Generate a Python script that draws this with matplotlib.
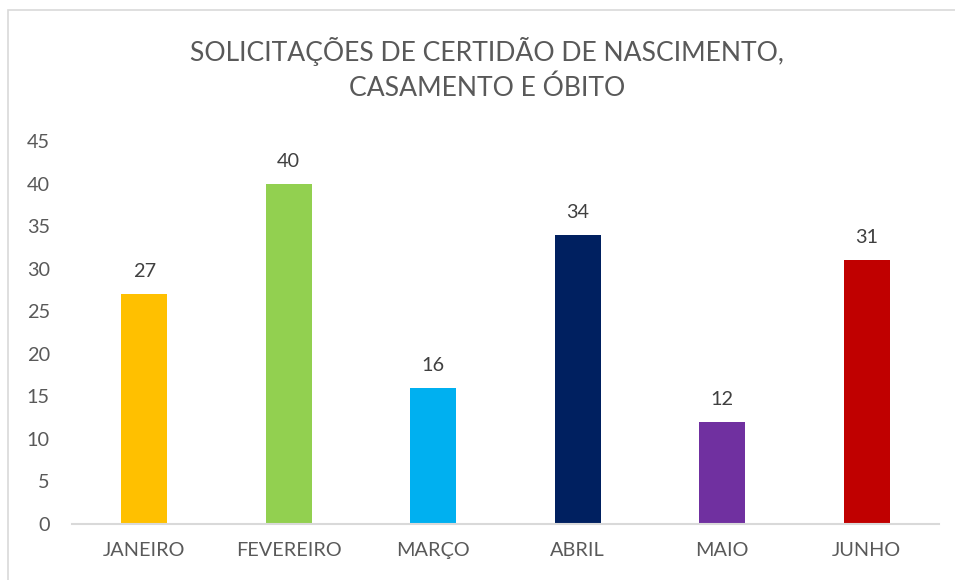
import matplotlib
matplotlib.use("Agg")
import matplotlib.pyplot as plt
from matplotlib.patches import Rectangle

months = ["JANEIRO", "FEVEREIRO", "MARÇO", "ABRIL", "MAIO", "JUNHO"]
values = [27, 40, 16, 34, 12, 31]
colors = ["#FFC000", "#92D050", "#00B0F0", "#002060", "#7030A0", "#C00000"]
yticks = [0, 5, 10, 15, 20, 25, 30, 35, 40, 45]
title = "SOLICITAÇÕES DE CERTIDÃO DE NASCIMENTO,\nCASAMENTO E ÓBITO"

plt.rcParams['font.family'] = ['Lato', 'DejaVu Sans']
W, H = 955, 580
fig = plt.figure(figsize=(W / 100, H / 100), dpi=100)
fig.patch.set_facecolor("white")

# chart border (left and top visible)
fig.patches.append(Rectangle((8 / W, -0.1), 2.0, (H - 10) / H + 0.1,
                             transform=fig.transFigure, fill=False,
                             edgecolor="#D9D9D9", linewidth=1.2))

x0, x1 = 72, 939
yb, yt = 524, 141
ax = fig.add_axes([x0 / W, 1 - yb / H, (x1 - x0) / W, (yb - yt) / H])
xs = list(range(len(months)))
bars = ax.bar(xs, values, width=0.32, color=colors)
ax.set_xlim(-0.5, len(months) - 0.5)
ax.set_ylim(0, 45)
ax.set_yticks(yticks)
ax.set_xticks(xs)
ax.set_xticklabels(months)
for s in ["top", "right", "left"]:
    ax.spines[s].set_visible(False)
ax.spines["bottom"].set_color("#D9D9D9")
ax.spines["bottom"].set_linewidth(1.5)
ax.tick_params(axis="both", length=0, labelsize=14.3, colors="#595959")
ax.tick_params(axis="x", pad=13)
ax.tick_params(axis="y", pad=16)
for lbl in ax.get_yticklabels():
    lbl.set_horizontalalignment("right")

for xi, v in zip(xs, values):
    ax.annotate(str(v), (xi, v), xytext=(0, 16), textcoords="offset points",
                ha="center", va="center", fontsize=14.3, color="#404040")

fig.text(487 / W, 1 - 69 / H, title, ha="center", va="center",
         fontsize=19.1, color="#595959", linespacing=1.5)

fig.savefig("out.png", dpi=100)
